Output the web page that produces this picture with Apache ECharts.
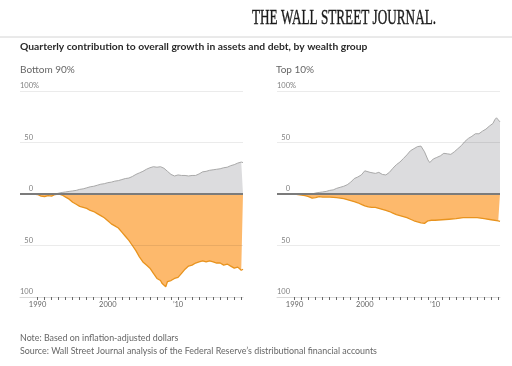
<!DOCTYPE html>
<html><head><meta charset="utf-8">
<script src="https://cdn.jsdelivr.net/npm/echarts@6/dist/echarts.min.js"></script>
<style>html,body{margin:0;padding:0;background:#fff}#c{width:512px;height:366px}</style>
</head><body><div id="c"></div>
<script>
const panelTitles = ['Bottom 90%', 'Top 10%'];
const labelYears = [1990, 2000, 2010];
const tickYears = [1990,1991,1992,1993,1994,1995,1996,1997,1998,1999,2000,2001,2002,2003,2004,2005,2006,2007,2008,2009,2010,2011,2012,2013,2014,2015,2016,2017,2018,2019];

const bottomAssetsYears = [1989.5,1992.5,1993,1993.5,1994,1994.5,1995,1995.5,1996,1996.5,1997,1997.5,1998,1998.5,1999,1999.5,2000,2000.5,2001,2001.5,2002,2002.5,2003,2003.5,2004,2004.5,2005,2005.5,2006,2006.5,2007,2007.5,2008,2008.5,2009,2009.5,2010,2010.5,2011,2011.5,2012,2012.5,2013,2013.5,2014,2014.5,2015,2015.5,2016,2016.5,2017,2017.5,2018,2018.5,2019,2019.25];
const bottomAssets = [0,0,0.8,1.5,2,2.5,3,3.5,4.5,5,6,7,7.5,8.5,9.5,10,11,11.5,12.5,13,14,15,15.5,17,19,20.5,22,24,25.5,26.5,26,26.5,25,22,19,17.5,18.5,18,18,17.5,18,18,19.5,21.5,22,23,23.5,24,24.5,25.5,26,27.5,28.5,30,31,30.5];

const bottomDebtYears = [1989.5,1989.75,1990,1990.5,1990.75,1991,1991.5,1992,1992.5,1993,1993.5,1994,1994.5,1995,1995.5,1996,1996.5,1997,1997.5,1998,1998.5,1999,1999.5,2000,2000.5,2001,2001.5,2002,2002.5,2003,2003.5,2004,2004.5,2005,2005.5,2006,2006.5,2007,2007.5,2007.75,2008,2008.25,2008.5,2009,2009.5,2010,2010.5,2011,2011.5,2012,2012.5,2013,2013.5,2014,2014.5,2015,2015.5,2016,2016.5,2017,2017.5,2018,2018.5,2019,2019.25];
const bottomDebt = [0,-1,-0.5,-2,-1,-2.5,-1.5,-2,-0.5,0,-1,-3,-5,-8,-10,-12,-13,-14,-16,-17,-19,-21,-23,-26,-29,-31,-33,-37,-41,-45,-50,-55,-61,-66,-69,-72,-77,-82,-84,-87,-86,-90,-85,-84,-82,-81,-77,-73,-70,-69,-67,-66,-65,-66,-65,-66,-67,-67,-69,-68,-70,-72,-71,-74,-73];

const topAssetsYears = [1990,1992.5,1993,1993.5,1994,1994.5,1995,1995.5,1996,1996.5,1997,1997.5,1998,1998.5,1999,1999.5,2000,2000.25,2000.75,2001,2001.5,2002,2002.5,2003,2003.5,2004,2004.5,2005,2005.5,2006,2006.5,2007,2007.5,2008,2008.5,2009,2009.25,2009.75,2010.25,2010.75,2011.25,2011.75,2012.25,2012.75,2013.25,2013.75,2014.25,2014.75,2015.25,2015.75,2016.25,2016.75,2017.25,2017.75,2018.25,2018.5,2018.75,2019,2019.25];
const topAssets = [0,0,1,1.5,2,2.5,3.5,4,5.5,6.5,7.5,9,11.5,15,16.5,18.5,22.5,23,21,22,20,21,19,18.5,21,25,28.5,31,34.5,38,42,44,46,46.5,41,33,30.5,34,35.5,37,39.5,39,38.5,41,44,47,51,54,56,58.5,58.5,61,63,66,68.5,72,74,72,70];

const topDebtYears = [1990,1990.5,1991,1991.5,1992,1992.5,1993,1993.5,1994,1995,1996,1997,1997.5,1998,1998.5,1999,1999.5,2000,2000.5,2001,2001.5,2002,2002.5,2003,2003.5,2004,2004.5,2005,2005.5,2006,2006.5,2007,2007.5,2008,2008.5,2008.75,2009,2009.5,2010,2011,2012,2013,2014,2015,2016,2017,2018,2019,2019.25];
const topDebt = [0,-0.5,-1,-1.5,-2.5,-4,-3.5,-2.5,-3,-3,-3.5,-4.5,-5.5,-6.5,-7.5,-8.5,-10,-11.5,-12.5,-13,-13,-14,-15,-16,-17,-18.5,-20,-21,-22,-23,-24.5,-26,-27,-28,-28.5,-28,-26,-25.5,-25.5,-25,-24.5,-24,-23,-23,-23,-24,-25,-26,-26.5];

const FONT = 'Lato';
const pairs = (xs, ys) => xs.map((x, i) => [x, ys[i]]);

function xAxis(gi) {
  return {
    type: 'value', gridIndex: gi, min: 1987.5, max: 2019.25,
    axisLine: { onZero: false, lineStyle: { color: '#d9d9d9', width: 1 } },
    axisTick: { show: true, customValues: tickYears, length: 3, lineStyle: { color: '#666', width: 1 } },
    axisLabel: { customValues: labelYears, formatter: v => v === 2010 ? '\u201910' : String(v),
      color: '#666', fontSize: 7.5, fontFamily: FONT, margin: 4 },
    splitLine: { show: false }
  };
}
function yAxis(gi) {
  return {
    type: 'value', gridIndex: gi, min: -100, max: 100, interval: 50,
    axisLine: { show: false }, axisTick: { show: false }, splitLine: { show: false },
    axisLabel: {
      inside: true, align: 'left', margin: 0, verticalAlign: 'bottom', padding: [0, 0, 1, 0],
      color: '#808080', fontSize: 7.5, fontFamily: FONT,
      formatter: v => v === 100 ? '{n|100}{p|%}' : '{n|' + Math.abs(v) + '}',
      rich: { n: { color: '#808080', fontSize: 7.5, fontFamily: FONT, width: 13, align: 'right' },
              p: { color: '#808080', fontSize: 7.5, fontFamily: FONT } }
    }
  };
}
const gridLine = c => ({ color: c, width: 1, type: 'solid' });
function series(gi, xs, ys, line, fill, lw, withMarks) {
  const s = {
    type: 'line', xAxisIndex: gi, yAxisIndex: gi, data: pairs(xs, ys), symbol: 'none',
    lineStyle: { color: line, width: lw }, areaStyle: { color: fill, opacity: 1 },
    silent: true, animation: false
  };
  if (withMarks) {
    s.markLine = {
      silent: true, symbol: 'none', label: { show: false }, animation: false,
      data: [
        { yAxis: 100, lineStyle: gridLine('rgba(0,0,0,0.08)') },
        { yAxis: 50, lineStyle: gridLine('rgba(0,0,0,0.08)') },
        { yAxis: -50, lineStyle: gridLine('rgba(0,0,0,0.08)') },
        { yAxis: 0, lineStyle: { color: '#7b7b7b', width: 2, type: 'solid' } }
      ]
    };
  }
  return s;
}
const ORANGE_LINE = '#e8931e', ORANGE_FILL = '#fdb96c', GRAY_LINE = '#a9a9a9', GRAY_FILL = '#dcdcde';

function txt(text, x, y, size, color, weight, extra) {
  return Object.assign({ type: 'text', x: x, y: y, silent: true,
    style: { text: text, fontSize: size, fontFamily: FONT, fontWeight: weight || 'normal', fill: color,
             align: 'left', verticalAlign: 'middle' } }, extra || {});
}

const option = {
  backgroundColor: '#fff',
  animation: false,
  grid: [
    { left: 20, top: 91, width: 223, height: 206 },
    { left: 277, top: 91, width: 223, height: 206 }
  ],
  xAxis: [xAxis(0), xAxis(1)],
  yAxis: [yAxis(0), yAxis(1)],
  series: [
    series(0, bottomDebtYears, bottomDebt, ORANGE_LINE, ORANGE_FILL, 1.3, false),
    series(0, bottomAssetsYears, bottomAssets, GRAY_LINE, GRAY_FILL, 1, true),
    series(1, topDebtYears, topDebt, ORANGE_LINE, ORANGE_FILL, 1.3, false),
    series(1, topAssetsYears, topAssets, GRAY_LINE, GRAY_FILL, 1, true)
  ],
  graphic: [
    { type: 'text', x: 252, y: 18, scaleX: 0.6, silent: true,
      style: { text: 'THE WALL STREET JOURNAL.', fontSize: 22, fontFamily: 'Liberation Serif', fill: '#1a1a1a',
               stroke: '#1a1a1a', lineWidth: 0.4, align: 'left', verticalAlign: 'middle' } },
    { type: 'line', silent: true, shape: { x1: 0, y1: 37, x2: 512, y2: 37 }, style: { stroke: '#d4d4d4', lineWidth: 1 } },
    txt('Quarterly contribution to overall growth in assets and debt, by wealth group', 20, 47, 10.3, '#2a2a2a', 'bold'),
    txt(panelTitles[0], 20, 69.5, 10, '#666'),
    txt(panelTitles[1], 276, 69.5, 10, '#666'),
    txt('Assets', 205.5, 187, 10.5, '#111', 'bold'),
    txt('Debt', 205.5, 203.5, 10.5, '#111', 'bold'),
    txt('Assets', 463, 187, 10.5, '#111', 'bold'),
    txt('Debt', 463, 203.5, 10.5, '#111', 'bold'),
    txt('Note: Based on inflation-adjusted dollars', 20, 338, 8.9, '#666'),
    txt('Source: Wall Street Journal analysis of the Federal Reserve\u2019s distributional financial accounts', 20, 351.5, 8.9, '#666')
  ]
};
const chart = echarts.init(document.getElementById('c'), null, { renderer: 'canvas' });
chart.setOption(option);
</script>
</body></html>
